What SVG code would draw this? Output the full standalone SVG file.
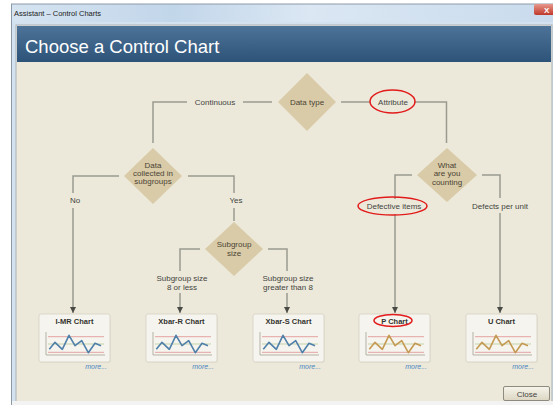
<svg xmlns="http://www.w3.org/2000/svg" width="553" height="405" viewBox="0 0 553 405">
  <defs>
    <linearGradient id="titleBar" x1="0" y1="0" x2="1" y2="0">
      <stop offset="0" stop-color="#d6e4f1"/>
      <stop offset="0.3" stop-color="#c2d6ea"/>
      <stop offset="0.55" stop-color="#dbe7f3"/>
      <stop offset="1" stop-color="#c9dbed"/>
    </linearGradient>
    <linearGradient id="header" x1="0" y1="0" x2="0" y2="1">
      <stop offset="0" stop-color="#4d7398"/>
      <stop offset="1" stop-color="#2e5378"/>
    </linearGradient>
    <linearGradient id="btn" x1="0" y1="0" x2="0" y2="1">
      <stop offset="0" stop-color="#f6f4ec"/>
      <stop offset="1" stop-color="#dcd6c2"/>
    </linearGradient>
    <linearGradient id="closeX" x1="0" y1="0" x2="0" y2="1">
      <stop offset="0" stop-color="#e6978a"/>
      <stop offset="1" stop-color="#c0392b"/>
    </linearGradient>
    <marker id="arrow" viewBox="0 0 6 6" refX="6" refY="3" markerWidth="6" markerHeight="6" markerUnits="userSpaceOnUse" orient="auto">
      <path d="M0,0 L6,3 L0,6 Z" fill="#4a4a44"/>
    </marker>
    <!-- shared chart thumbnail: frame, axes and limit lines -->
    <g id="chartFrame">
      <rect x="1" y="1" width="71" height="48" rx="2" fill="#dcd8ca" opacity="0.6"/>
      <rect x="0" y="0" width="71" height="48" rx="2" fill="#f6f4ee" stroke="#dbd7ca" stroke-width="1"/>
      <line x1="9" y1="22.7" x2="65" y2="22.7" stroke="#e3a3a0" stroke-width="1"/>
      <line x1="9" y1="30" x2="65" y2="30" stroke="#c3d4a8" stroke-width="1"/>
      <line x1="9" y1="38.3" x2="65" y2="38.3" stroke="#e3a3a0" stroke-width="1"/>
      <path d="M7,18 V41 H66" fill="none" stroke="#b5b1a6" stroke-width="1"/>
    </g>
    <polyline id="trace" points="10.3,35.3 16,28.3 23.3,35.3 30,21.3 36,31.7 42.7,26.7 49.3,38.7 56,29.3 62,31.7" fill="none" stroke-width="1.6" stroke-linejoin="round"/>
  </defs>
  <style>
    .lbl { font-family: "Liberation Sans", Arial, sans-serif; font-size: 8px; fill: #44443e; text-anchor: middle; }
    .dlbl { font-family: "Liberation Sans", Arial, sans-serif; font-size: 8px; fill: #4a4334; text-anchor: middle; }
    .ttl { font-family: "Liberation Sans", Arial, sans-serif; font-size: 7.5px; fill: #33332e; text-anchor: middle; font-weight: bold; }
    .more { font-family: "Liberation Sans", Arial, sans-serif; font-size: 7px; fill: #4b86c0; font-style: italic; text-anchor: end; }
    .dia { fill: #d9cba8; }
    .conn { fill: none; stroke: #9a9a90; stroke-width: 1.5; }
    .ring { fill: none; stroke: #e21b1b; stroke-width: 1.5; }
    .blue { stroke: #4f80aa; }
    .tan { stroke: #c59a52; }
  </style>

  <!-- window chrome -->
  <rect x="0" y="0" width="553" height="405" fill="#ffffff"/>
  <rect x="11" y="4" width="542" height="401" fill="#d4e1ee"/>
  <rect x="11" y="4" width="542" height="18" fill="url(#titleBar)"/>
  <line x1="11" y1="4" x2="553" y2="4" stroke="#8c9aa8" stroke-width="1"/>
  <line x1="11.5" y1="4" x2="11.5" y2="405" stroke="#8c9aa8" stroke-width="1"/>
  <text x="14" y="15.5" font-family="Liberation Sans, Arial, sans-serif" font-size="7.5" fill="#222222">Assistant – Control Charts</text>
  <rect x="534" y="4" width="21" height="11" rx="2" fill="url(#closeX)"/>
  <text x="544" y="13" font-family="Liberation Sans, Arial, sans-serif" font-size="8" font-weight="bold" fill="#ffffff">X</text>
  <rect x="16" y="25" width="536" height="377" fill="#ece9da" stroke="#a9b3bc" stroke-width="1"/>
  <rect x="17" y="26" width="534" height="36" fill="url(#header)"/>
  <text x="25" y="53" font-family="Liberation Sans, Arial, sans-serif" font-size="18.5" fill="#ffffff">Choose a Control Chart</text>
  <rect x="12" y="401" width="541" height="4" fill="#f3f3f3"/>

  <!-- connectors -->
  <g id="connectors">
    <path class="conn" d="M272,102 H243 M187,102 H153 V143"/>
    <path class="conn" d="M341,102 H370 M415,102 H446.5 V143"/>
    <path class="conn" d="M119,176 H73 V193"/>
    <path class="conn" d="M73,208 V313" marker-end="url(#arrow)"/>
    <path class="conn" d="M188,176 H234 V193 M234,208 V221"/>
    <path class="conn" d="M200,249 H180 V271"/>
    <path class="conn" d="M180,293 V313" marker-end="url(#arrow)"/>
    <path class="conn" d="M268,249 H287 V271"/>
    <path class="conn" d="M287,293 V313" marker-end="url(#arrow)"/>
    <path class="conn" d="M412,175 H395 V199"/>
    <path class="conn" d="M395,214 V313" marker-end="url(#arrow)"/>
    <path class="conn" d="M482,175 H500 V198"/>
    <path class="conn" d="M500,213 V313" marker-end="url(#arrow)"/>
    <text class="lbl" x="215" y="105">Continuous</text>
    <text class="lbl" x="393" y="105">Attribute</text>
    <ellipse class="ring" cx="392.5" cy="101.5" rx="22.5" ry="11.5"/>
    <text class="lbl" x="75" y="203">No</text>
    <text class="lbl" x="236" y="203">Yes</text>
    <text class="lbl" x="182" y="281">Subgroup size</text>
    <text class="lbl" x="182" y="290">8 or less</text>
    <text class="lbl" x="288" y="281">Subgroup size</text>
    <text class="lbl" x="288" y="290">greater than 8</text>
    <text class="lbl" x="394" y="209">Defective items</text>
    <ellipse class="ring" cx="392.5" cy="206" rx="34.5" ry="9"/>
    <text class="lbl" x="500" y="209">Defects per unit</text>
  </g>

  <!-- decision nodes -->
  <g id="data-type">
    <polygon class="dia" points="307,73 336,102 307,131 278,102"/>
    <text class="dlbl" x="307" y="105">Data type</text>
  </g>
  <g id="data-subgroups">
    <polygon class="dia" points="153,148 182,176 153,204 124,176"/>
    <text class="dlbl" x="153" y="168">Data</text>
    <text class="dlbl" x="153" y="176">collected in</text>
    <text class="dlbl" x="153" y="184">subgroups</text>
  </g>
  <g id="subgroup-size">
    <polygon class="dia" points="234,222 263,249 234,276 205,249"/>
    <text class="dlbl" x="234" y="247">Subgroup</text>
    <text class="dlbl" x="234" y="256">size</text>
  </g>
  <g id="what-counting">
    <polygon class="dia" points="447,148 477,175 447,202 417,175"/>
    <text class="dlbl" x="447" y="168">What</text>
    <text class="dlbl" x="447" y="176">are you</text>
    <text class="dlbl" x="447" y="185">counting</text>
  </g>

  <!-- chart result nodes -->
  <g id="imr-chart" transform="translate(39,314)">
    <use href="#chartFrame"/>
    <use href="#trace" class="blue"/>
    <text class="ttl" x="35.5" y="10">I-MR Chart</text>
    <text class="more" x="68" y="55">more...</text>
  </g>
  <g id="xbar-r-chart" transform="translate(146,314)">
    <use href="#chartFrame"/>
    <use href="#trace" class="blue"/>
    <text class="ttl" x="35.5" y="10">Xbar-R Chart</text>
    <text class="more" x="68" y="55">more...</text>
  </g>
  <g id="xbar-s-chart" transform="translate(253,314)">
    <use href="#chartFrame"/>
    <use href="#trace" class="blue"/>
    <text class="ttl" x="35.5" y="10">Xbar-S Chart</text>
    <text class="more" x="68" y="55">more...</text>
  </g>
  <g id="p-chart" transform="translate(359,314)">
    <use href="#chartFrame"/>
    <use href="#trace" class="tan"/>
    <text class="ttl" x="35.5" y="10">P Chart</text>
    <ellipse class="ring" cx="34" cy="6.5" rx="19" ry="6"/>
    <text class="more" x="68" y="55">more...</text>
  </g>
  <g id="u-chart" transform="translate(466,314)">
    <use href="#chartFrame"/>
    <use href="#trace" class="tan"/>
    <text class="ttl" x="35.5" y="10">U Chart</text>
    <text class="more" x="68" y="55">more...</text>
  </g>

  <!-- dialog button -->
  <g id="close-button">
    <rect x="503.5" y="386.5" width="46" height="14" rx="1.5" fill="url(#btn)" stroke="#8d8a7e" stroke-width="1"/>
    <text class="lbl" x="527" y="396.5">Close</text>
  </g>
</svg>
